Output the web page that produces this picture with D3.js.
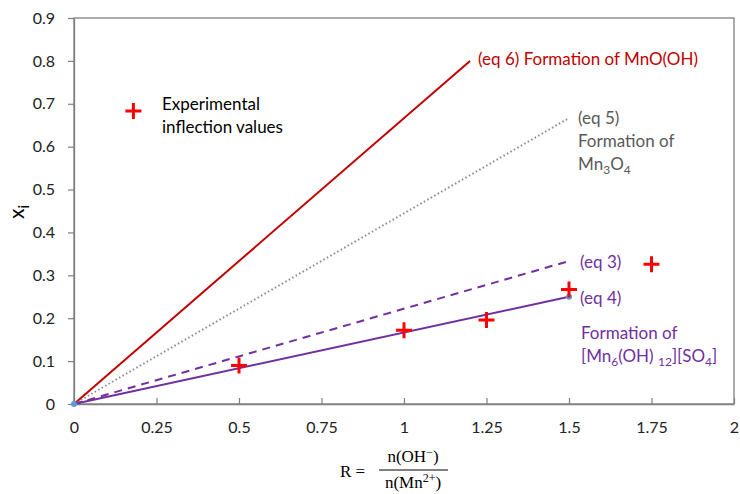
<!DOCTYPE html>
<html><head><meta charset="utf-8">
<script src="https://cdn.jsdelivr.net/npm/d3@7"></script>
<style>
html,body{margin:0;padding:0;background:#fff;}
text{font-family:Lato, "Open Sans", sans-serif;}
</style></head>
<body><svg id="c" width="740" height="494"></svg>
<script>
// ---- data ----
const xTicks = [0, 0.25, 0.5, 0.75, 1, 1.25, 1.5, 1.75, 2];
const xTickLabels = ["0", "0.25", "0.5", "0.75", "1", "1.25", "1.5", "1.75", "2"];
const yTicks = [0, 0.1, 0.2, 0.3, 0.4, 0.5, 0.6, 0.7, 0.8, 0.9];
const yTickLabels = ["0", "0.1", "0.2", "0.3", "0.4", "0.5", "0.6", "0.7", "0.8", "0.9"];
const eq6 = [[0, 0], [1.2, 0.8]];
const eq5 = [[0, 0], [1.5, 0.6667]];
const eq3 = [[0, 0], [1.5, 0.3333]];
const eq4 = [[0, 0], [1.5, 0.25]];
const expR = [0.5, 1, 1.25, 1.5, 1.75];
const expX = [0.09, 0.172, 0.196, 0.267, 0.326];
const legendPoint = [0.18, 0.683];

// ---- layout ----
const svg = d3.select("#c");
const L = 74, R = 734, T = 18, B = 404;
const x = d3.scaleLinear().domain([0, 2]).range([L, R]);
const y = d3.scaleLinear().domain([0, 0.9]).range([B, T]);

// frame
svg.append("rect").attr("x", L).attr("y", T).attr("width", R - L).attr("height", B - T)
  .attr("fill", "none").attr("stroke", "#7f7f7f").attr("stroke-width", 1.3);

// axes
const xAxis = d3.axisBottom(x).tickValues(xTicks).tickFormat((d, i) => xTickLabels[i]).tickSizeInner(-6).tickSizeOuter(0).tickPadding(18);
const gx = svg.append("g").attr("transform", `translate(0,${B})`).call(xAxis);
const yAxis = d3.axisLeft(y).tickValues(yTicks).tickFormat((d, i) => yTickLabels[i]).tickSizeInner(6).tickSizeOuter(0).tickPadding(13);
const gy = svg.append("g").attr("transform", `translate(${L},0)`).call(yAxis);
[gx, gy].forEach(g => {
  g.select(".domain").attr("stroke", "#7f7f7f").attr("stroke-width", 1.3);
  g.selectAll(".tick line").attr("stroke", "#7f7f7f").attr("stroke-width", 1.2);
  g.selectAll(".tick text").attr("fill", "#222").style("font-size", "16px").style("font-family", "Lato, sans-serif");
});

// lines
const line = d3.line().x(d => x(d[0])).y(d => y(d[1]));
svg.append("path").attr("d", line(eq6)).attr("stroke", "#c00000").attr("stroke-width", 2).attr("fill", "none");
svg.append("path").attr("d", line(eq5)).attr("stroke", "#8c8c8c").attr("stroke-width", 2).attr("stroke-dasharray", "1.5,2.5").attr("fill", "none");
svg.append("path").attr("d", line(eq3)).attr("stroke", "#7030a0").attr("stroke-width", 2).attr("stroke-dasharray", "8,6").attr("fill", "none");
svg.append("path").attr("d", line(eq4)).attr("stroke", "#7030a0").attr("stroke-width", 2).attr("fill", "none");
svg.selectAll("circle.m").data(eq4).enter().append("circle").attr("class", "m")
  .attr("cx", d => x(d[0])).attr("cy", d => y(d[1])).attr("r", 3).attr("fill", "#5b9bd5");

// experimental crosses
function cross(cx, cy) {
  const s = 8;
  svg.append("path").attr("d", `M${cx - s},${cy}H${cx + s}M${cx},${cy - s}V${cy + s}`)
    .attr("stroke", "#ff0000").attr("stroke-width", 3).attr("fill", "none");
}
expR.forEach((r, i) => cross(x(r), y(expX[i])));
cross(x(legendPoint[0]), y(legendPoint[1]));

// text helper
const fs = 17;
function txt(xp, yp, s, col) {
  return svg.append("text").attr("x", xp).attr("y", yp).attr("fill", col).style("font-size", fs + "px").text(s);
}
function sub(t, s) {
  t.append("tspan").attr("dy", 4).style("font-size", "12px").text(s);
}
function back(t, s) {
  t.append("tspan").attr("dy", -4).text(s);
}

// legend text
txt(162, 110, "Experimental", "#000");
txt(162, 133, "inflection values", "#000");

// annotations
txt(478, 65, "(eq 6) Formation of MnO(OH)", "#c00000");
const gray = "#595959";
txt(578, 124, "(eq 5)", gray);
txt(578, 147, "Formation of", gray);
const mn = txt(578, 170, "Mn", gray);
sub(mn, "3"); back(mn, "O"); sub(mn, "4");
const pur = "#7030a0";
txt(580, 268, "(eq 3)", pur);
txt(580, 304, "(eq 4)", pur);
txt(581, 339, "Formation of", pur);
const f = txt(581, 362, "[Mn", pur);
sub(f, "6"); back(f, "(OH) "); sub(f, "12"); back(f, "][SO"); sub(f, "4"); back(f, "]");

// y-axis title
const yt = svg.append("text").attr("transform", "translate(24,212) rotate(-90)")
  .attr("text-anchor", "middle").attr("fill", "#000").style("font-size", "21px");
yt.append("tspan").text("x");
yt.append("tspan").attr("dy", 5).style("font-size", "15px").text("i");

// x-axis title (serif math style)
const serif = "'Liberation Serif', 'DejaVu Serif', serif";
const mfs = "17px";
svg.append("text").attr("x", 340).attr("y", 477).style("font-family", serif).style("font-size", mfs).attr("fill", "#000").text("R =");
const num = svg.append("text").attr("x", 413).attr("y", 462).attr("text-anchor", "middle").style("font-family", serif).style("font-size", mfs).attr("fill", "#000");
num.append("tspan").text("n(OH");
num.append("tspan").attr("dy", -6).style("font-size", "12px").text("\u2212");
num.append("tspan").attr("dy", 6).text(")");
svg.append("line").attr("x1", 379).attr("x2", 448).attr("y1", 470).attr("y2", 470).attr("stroke", "#000").attr("stroke-width", 1);
const den = svg.append("text").attr("x", 413).attr("y", 488).attr("text-anchor", "middle").style("font-family", serif).style("font-size", mfs).attr("fill", "#000");
den.append("tspan").text("n(Mn");
den.append("tspan").attr("dy", -6).style("font-size", "12px").text("2+");
den.append("tspan").attr("dy", 6).text(")");
</script></body></html>
